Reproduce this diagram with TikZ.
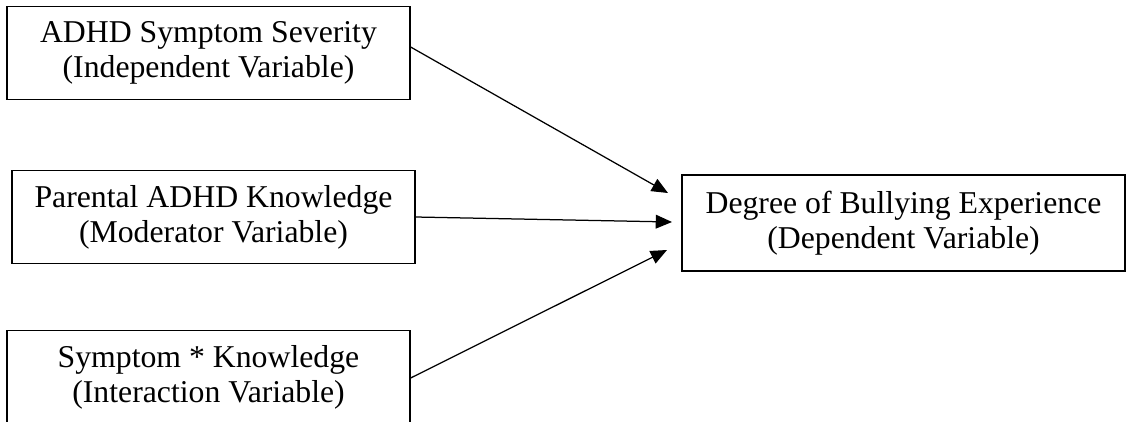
\documentclass[tikz,border=0pt]{standalone}
\usepackage{fontspec}
\setmainfont{Liberation Serif}
\usetikzlibrary{arrows.meta}
\begin{document}
\begin{tikzpicture}[x=0.4pt,y=-0.4pt,varbox/.style={draw,line width=0.5pt,align=center,minimum width=161.2pt,minimum height=37.2pt,inner sep=0pt,font=\fontsize{12.7}{14}\selectfont,execute at begin node={\rule{0pt}{11.8pt}}}]
		\tikzstyle{depbox}=[varbox,minimum width=177.2pt,minimum height=38.4pt]
		\tikzstyle{arrow}=[draw,line width=0.5pt,-{Triangle[length=6.5pt,width=5.5pt]}]
		\useasboundingbox (0,0) rectangle (1129,421);
		\node[varbox] (iv) at (208.5,53) {ADHD Symptom Severity\\(Independent Variable)};
		\node[varbox] (mv) at (213.5,217) {Parental ADHD Knowledge\\(Moderator Variable)};
		\node[varbox] (xv) at (208.5,377) {Symptom * Knowledge\\(Interaction Variable)};
		\node[depbox] (dv) at (903.5,223) {Degree of Bullying Experience\\(Dependent Variable)};
		\coordinate (t1) at (668,193);
		\coordinate (t2) at (672,222);
		\coordinate (t3) at (667,250);
		\path[arrow] ([yshift=2.4pt]iv.east) -- (t1);
		\path[arrow] (mv.east) -- (t2);
		\path[arrow] ([yshift=-0.4pt]xv.east) -- (t3);
		
		\end{tikzpicture}
\end{document}
